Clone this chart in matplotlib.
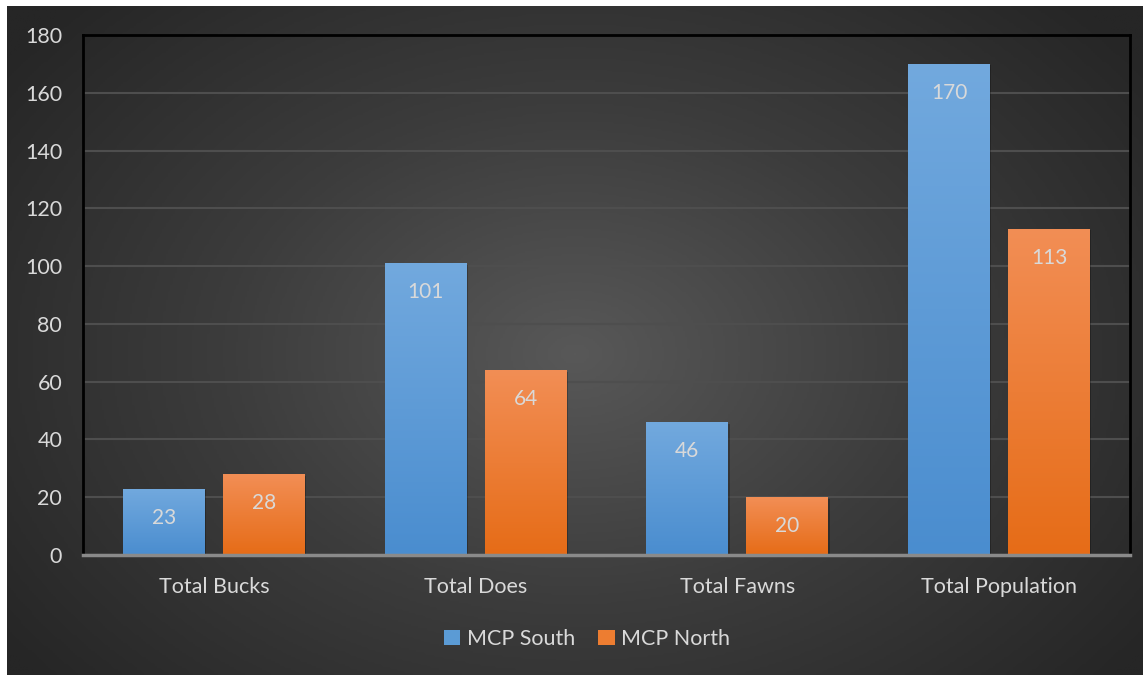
"""
Deer population counts, MCP South vs MCP North
"""

import numpy as np
import matplotlib
matplotlib.use("Agg")
import matplotlib.pyplot as plt
import matplotlib.patheffects as pe
from matplotlib.colors import LinearSegmentedColormap

plt.rcParams['font.family'] = ['Lato', 'DejaVu Sans']

categories = ["Total Bucks", "Total Does", "Total Fawns", "Total Population"]
south = [23, 101, 46, 170]
north = [28, 64, 20, 113]
series_names = ["MCP South", "MCP North"]
yticks = [0, 20, 40, 60, 80, 100, 120, 140, 160, 180]

textcol = "#d9d9d9"
blue_top, blue_mid, blue_bot = "#72a9de", "#5b9bd5", "#4a8dcf"
orng_top, orng_mid, orng_bot = "#f28e55", "#ed7d31", "#e66c17"

W, H = 1143, 675
fig = plt.figure(figsize=(W / 100, H / 100), dpi=100)
fig.patch.set_facecolor("white")

# radial dark background
bg = fig.add_axes([7 / W, 0, 1 - 7 / W, 1 - 6 / H])
bg.set_axis_off()
yy, xx = np.mgrid[0:1:300j, 0:1:500j]
r = np.sqrt(((xx - 0.5) / 0.62) ** 2 + ((yy - 0.52) / 0.75) ** 2)
r = np.clip(r, 0, 1)
bgcmap = LinearSegmentedColormap.from_list("bg", ["#585858", "#3c3c3c", "#262626"])
bg.imshow(r, cmap=bgcmap, aspect="auto", extent=[0, 1, 0, 1], vmin=0, vmax=1)
bg.set_xlim(0, 1)
bg.set_ylim(0, 1)

ax = fig.add_axes([83 / W, 1 - 555 / H, (1130 - 83) / W, (555 - 35) / H])
ax.set_facecolor("none")

x = np.arange(len(categories))
width = 0.313
gap = 0.069
off = (width + gap) / 2

bars_s = ax.bar(x - off, south, width, color=blue_mid, zorder=3, label=series_names[0])
bars_n = ax.bar(x + off, north, width, color=orng_mid, zorder=3, label=series_names[1])

shadow = [pe.SimplePatchShadow(offset=(1, -1), shadow_rgbFace="black", alpha=0.25), pe.Normal()]

def shade(bars, top, bot):
	cm = LinearSegmentedColormap.from_list("g", [bot, top])
	grad = np.linspace(0, 1, 256).reshape(-1, 1)
	for b in bars:
		b.set_path_effects(shadow)
		x0, y0 = b.get_x(), b.get_y()
		im = ax.imshow(grad, cmap=cm, aspect="auto", origin="lower",
			extent=[x0, x0 + b.get_width(), y0, y0 + b.get_height()], zorder=3.5)
		im.set_clip_path(b)

shade(bars_s, blue_top, blue_bot)
shade(bars_n, orng_top, orng_bot)

for bars, vals in [(bars_s, south), (bars_n, north)]:
	for b, v in zip(bars, vals):
		ax.annotate(str(v), xy=(b.get_x() + b.get_width() / 2, v), xytext=(0, -29),
			textcoords="offset pixels", ha="center", va="center",
			fontsize=15, color=textcol, zorder=5)

ax.set_xlim(-0.5, len(categories) - 0.5)
ax.set_ylim(0, 180)
ax.set_yticks(yticks)
ax.set_xticks(x)
ax.set_xticklabels(categories)
ax.tick_params(axis="both", length=0, colors=textcol, labelsize=15.5)
ax.tick_params(axis="y", pad=15)
ax.tick_params(axis="x", pad=16)
ax.yaxis.grid(True, color="#4e4e4e", lw=1.5, zorder=1)
ax.set_axisbelow(True)

for s in ["left", "top", "right"]:
	ax.spines[s].set_color("black")
	ax.spines[s].set_linewidth(2)
ax.spines["bottom"].set_color("#8a8a8a")
ax.spines["bottom"].set_linewidth(2.5)
ax.spines["bottom"].set_zorder(4)

leg = fig.legend(handles=[bars_s, bars_n], labels=series_names, loc="center",
	bbox_to_anchor=(587 / W, 1 - 639 / H), ncol=2, frameon=False, fontsize=15.5,
	handlelength=0.75, handleheight=0.75, handletextpad=0.3, columnspacing=1.1)
for t in leg.get_texts():
	t.set_color(textcol)
for h in leg.legend_handles:
	h.set_path_effects([])

fig.savefig("out.png", dpi=100)
